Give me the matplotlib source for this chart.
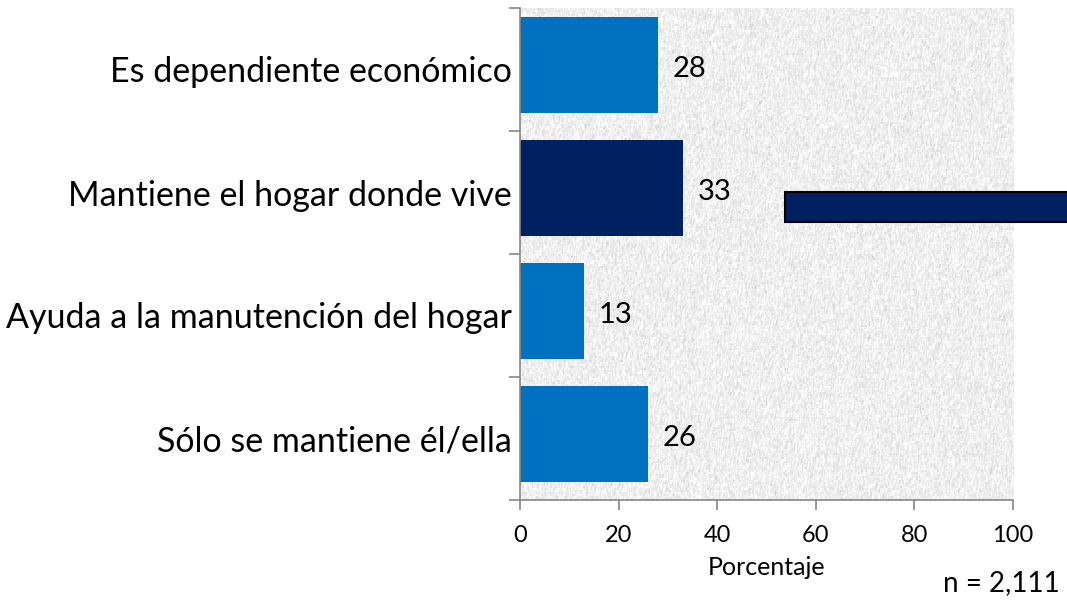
import numpy as np
import matplotlib
matplotlib.use("Agg")
import matplotlib.pyplot as plt
from matplotlib.patches import Rectangle

# -------------------------------
# Data
# -------------------------------
categories = [
    "Es dependiente económico",
    "Mantiene el hogar donde vive",
    "Ayuda a la manutención del hogar",
    "Sólo se mantiene él/ella",
]
values = [28, 33, 13, 26]
highlight = [False, True, False, False]
x_ticks = [0, 20, 40, 60, 80, 100]
x_label = "Porcentaje"
n_note = "n = 2,111"

light_blue = "#0070C0"
dark_blue = "#002060"

plt.rcParams["font.family"] = ["Lato", "DejaVu Sans"]

fig = plt.figure(figsize=(10.67, 6.05), dpi=100)
ax = fig.add_axes([520 / 1067, 1 - 500 / 605, 493 / 1067, 492 / 605])

# -------------------------------
# Gray textured background (decoration only)
# -------------------------------
rng = np.random.default_rng(7)
tex = rng.normal(0.935, 0.05, (250, 500))
tex = (2 * tex + np.roll(tex, 1, axis=0) + np.roll(tex, 1, axis=1)) / 4
ax.imshow(tex, cmap="gray", vmin=0, vmax=1, extent=[0, 100, 3.5, -0.5],
          aspect="auto", interpolation="nearest", zorder=0)

# -------------------------------
# Bars
# -------------------------------
pos = np.arange(len(categories)) - 0.037
colors = [dark_blue if h else light_blue for h in highlight]
ax.barh(pos, values, height=0.78, color=colors, zorder=2)

for p, v in zip(pos, values):
    ax.text(v + 3, p + 0.03, str(v), va="center", ha="left", fontsize=21, zorder=3)

ax.set_xlim(0, 100)
ax.set_ylim(3.5, -0.5)

ax.set_yticks(np.arange(len(categories)))
ax.set_yticklabels(categories, fontsize=24.5)
ax.set_yticks(np.arange(-0.5, len(categories), 1), minor=True)
ax.tick_params(axis="y", which="major", length=0, pad=6)
ax.tick_params(axis="y", which="minor", length=8, color="#868686", width=1.2)

ax.set_xticks(x_ticks)
ax.set_xticklabels([str(t) for t in x_ticks], fontsize=17)
ax.tick_params(axis="x", length=7, color="#868686", width=1.2, pad=11)
ax.set_xlabel(x_label, fontsize=18, labelpad=7)

for side in ["top", "right"]:
    ax.spines[side].set_visible(False)
for side in ["left", "bottom"]:
    ax.spines[side].set_color("#868686")
    ax.spines[side].set_linewidth(1.2)

# -------------------------------
# Callout bar and sample size note
# -------------------------------
fig.patches.append(Rectangle((785 / 1067, 1 - 222 / 605), 0.3, 30 / 605,
                             transform=fig.transFigure, facecolor=dark_blue,
                             edgecolor="black", linewidth=1.5, zorder=5))
fig.text(1060 / 1067, 1 - 583 / 605, n_note, ha="right", va="center", fontsize=20)

fig.savefig("out.png", dpi=100)
plt.close(fig)
